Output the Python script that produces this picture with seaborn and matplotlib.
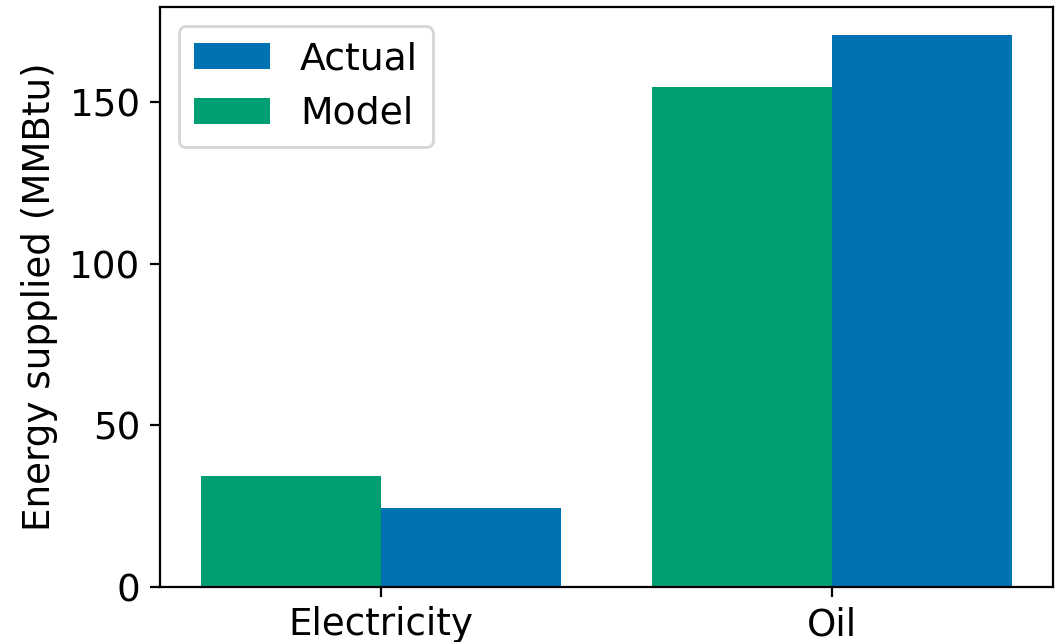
import matplotlib
matplotlib.use("Agg")
import matplotlib.pyplot as plt
import seaborn as sns
import pandas as pd

# Energy supplied by fuel, model estimate vs. actual metered use
categories = ["Electricity", "Oil"]
model_values = [34.5, 154.7]
actual_values = [24.3, 170.7]

df = pd.DataFrame({
    "Fuel": categories * 2,
    "Series": ["Model"] * len(categories) + ["Actual"] * len(categories),
    "Energy": model_values + actual_values,
})

sns.set_style("ticks", {"axes.edgecolor": "black", "xtick.color": "black",
                        "ytick.color": "black", "text.color": "black",
                        "axes.labelcolor": "black"})
plt.rcParams["font.family"] = ["DejaVu Sans"]

fig, ax = plt.subplots(figsize=(1063 / 200, 642 / 200), dpi=200)
fig.subplots_adjust(left=0.1505, right=0.9906, bottom=0.0857, top=0.989)

palette = {"Model": "#009E73", "Actual": "#0072B2"}
sns.barplot(data=df, x="Fuel", y="Energy", hue="Series",
            hue_order=["Model", "Actual"], palette=palette,
            width=0.8, saturation=1, linewidth=0, ax=ax)

ax.set_xlim(-0.49, 1.49)
ax.set_ylim(0, 179.5)
ax.set_yticks([0, 50, 100, 150])
ax.set_xlabel("")
ax.set_ylabel("Energy supplied (MMBtu)", fontsize=13.4)
ax.tick_params(axis="both", labelsize=13.4, width=0.8, length=3.5)
for s in ax.spines.values():
    s.set_linewidth(0.8)
    s.set_visible(True)

handles, labels = ax.get_legend_handles_labels()
order = [labels.index("Actual"), labels.index("Model")]
ax.legend([handles[i] for i in order], [labels[i] for i in order],
          loc="upper left", fontsize=13.6, frameon=True)

fig.savefig("out.png", dpi=200)
